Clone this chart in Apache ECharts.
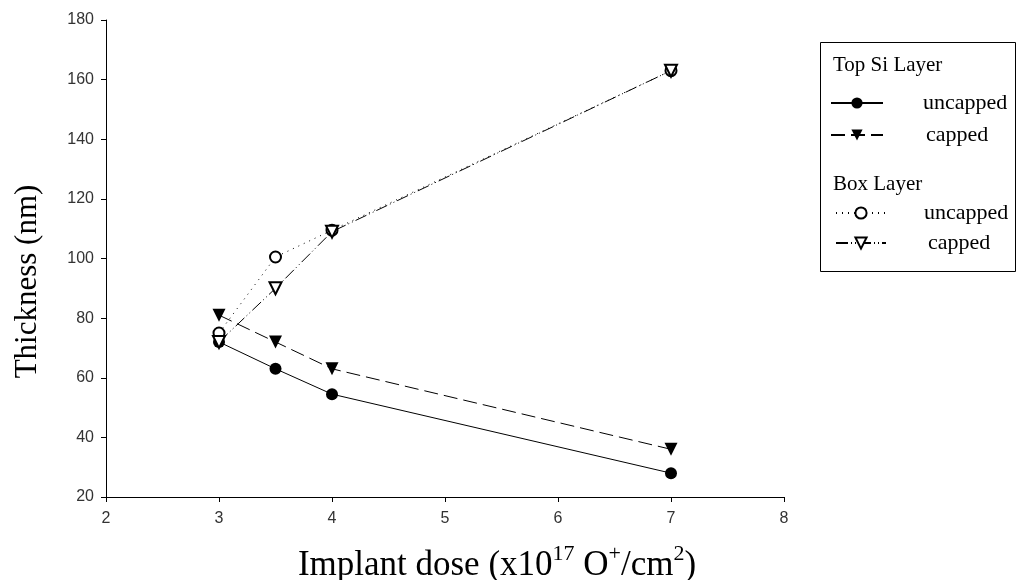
<!DOCTYPE html>
<html>
<head>
<meta charset="utf-8">
<script src="https://cdn.jsdelivr.net/npm/echarts@6/dist/echarts.min.js"></script>
<style>html,body{margin:0;padding:0;background:#fff}#c{width:1018px;height:580px}</style>
</head>
<body>
<div id="c"></div>
<script>
var doses = [3, 3.5, 4, 7];
var topSiUncapped = [72, 63, 54.5, 28];
var topSiCapped = [81, 72, 63, 36];
var boxUncapped = [75, 100.5, 109.5, 163];
var boxCapped = [72, 90, 109, 163];
var xTicks = [2, 3, 4, 5, 6, 7, 8];
var yTicks = [20, 40, 60, 80, 100, 120, 140, 160, 180];

function pts(ys) { return doses.map(function (x, i) { return [x, ys[i]]; }); }

var chart = echarts.init(document.getElementById('c'), null, {renderer: 'canvas'});
var serif = '"Liberation Serif", "DejaVu Serif", serif';
var sans = '"Liberation Sans", Arial, sans-serif';

chart.setOption({
  animation: false,
  backgroundColor: '#fff',
  grid: {left: 106, right: 234, top: 20, bottom: 83, containLabel: false, outerBoundsMode: 'none'},
  xAxis: {
    type: 'value', min: xTicks[0], max: xTicks[xTicks.length - 1], interval: 1,
    axisLine: {lineStyle: {color: '#000', width: 1}},
    axisTick: {length: 5, lineStyle: {color: '#000'}},
    splitLine: {show: false},
    axisLabel: {color: '#333', fontFamily: sans, fontSize: 16, margin: 14},
    name: '{a|Implant dose (x10}{s|17}{a| O}{s|+}{a|/cm}{s|2}{a|)}',
    nameLocation: 'middle', nameGap: 46,
    nameTextStyle: {
      padding: [0, 0, 0, 104],
      rich: {
        a: {fontFamily: serif, fontSize: 35, color: '#000', verticalAlign: 'bottom', lineHeight: 40},
        s: {fontFamily: serif, fontSize: 22, color: '#000', verticalAlign: 'bottom', padding: [0, 0, 18, 0], lineHeight: 40}
      }
    }
  },
  yAxis: {
    type: 'value', min: yTicks[0], max: yTicks[yTicks.length - 1], interval: 20,
    axisLine: {show: true, lineStyle: {color: '#000', width: 1}},
    axisTick: {show: true, length: 5, lineStyle: {color: '#000'}},
    splitLine: {show: false},
    axisLabel: {color: '#333', fontFamily: sans, fontSize: 16, margin: 12},
    name: 'Thickness (nm)', nameLocation: 'middle', nameGap: 63, nameRotate: 90,
    nameTextStyle: {fontFamily: serif, fontSize: 31, color: '#000', padding: [0, 46, 0, 0]}
  },
  legend: [
    {
      orient: 'vertical', left: 830, top: 92, padding: 0, itemWidth: 52, itemHeight: 14, itemGap: 10,
      data: [
        {name: 'Top Si uncapped', textStyle: {padding: [0, 0, 0, 35]}},
        {name: 'Top Si capped', textStyle: {padding: [0, 0, 0, 38]}}
      ],
      formatter: function (n) { return n.replace('Top Si ', ''); },
      textStyle: {fontFamily: serif, fontSize: 22, lineHeight: 22, color: '#000'}
    },
    {
      orient: 'vertical', left: 835, top: 202, padding: 0, itemWidth: 50, itemHeight: 14, itemGap: 8,
      data: [
        {name: 'Box uncapped', textStyle: {padding: [0, 0, 0, 33]}},
        {name: 'Box capped', textStyle: {padding: [0, 0, 0, 37]}}
      ],
      formatter: function (n) { return n.replace('Box ', ''); },
      textStyle: {fontFamily: serif, fontSize: 22, lineHeight: 22, color: '#000'}
    }
  ],
  graphic: [
    {type: 'rect', left: 818, top: 40, shape: {width: 195, height: 229},
     style: {fill: 'none', stroke: '#000', lineWidth: 1}},
    {type: 'text', left: 833, top: 55, style: {text: 'Top Si Layer', font: '21px ' + serif, fill: '#000'}},
    {type: 'text', left: 833, top: 174, style: {text: 'Box Layer', font: '21px ' + serif, fill: '#000'}}
  ],
  series: [
    {name: 'Top Si uncapped', type: 'line', data: pts(topSiUncapped),
     symbol: 'circle', symbolSize: 12,
     itemStyle: {color: '#000'}, lineStyle: {color: '#000', width: 1, type: 'solid'}},
    {name: 'Top Si capped', type: 'line', data: pts(topSiCapped),
     symbol: 'triangle', symbolRotate: 180, symbolSize: 13,
     itemStyle: {color: '#000'}, lineStyle: {color: '#000', width: 1, type: [14, 6]}},
    {name: 'Box uncapped', type: 'line', data: pts(boxUncapped),
     symbol: 'emptyCircle', symbolSize: 11,
     itemStyle: {color: '#000', borderWidth: 1},
     lineStyle: {color: '#000', width: 1, type: [1, 5]}},
    {name: 'Box capped', type: 'line', data: pts(boxCapped),
     symbol: 'emptyTriangle', symbolRotate: 180, symbolSize: 12,
     itemStyle: {color: '#000', borderWidth: 1},
     lineStyle: {color: '#000', width: 1, type: [12, 3, 1, 3, 1, 3]}}
  ]
});
</script>
</body>
</html>
